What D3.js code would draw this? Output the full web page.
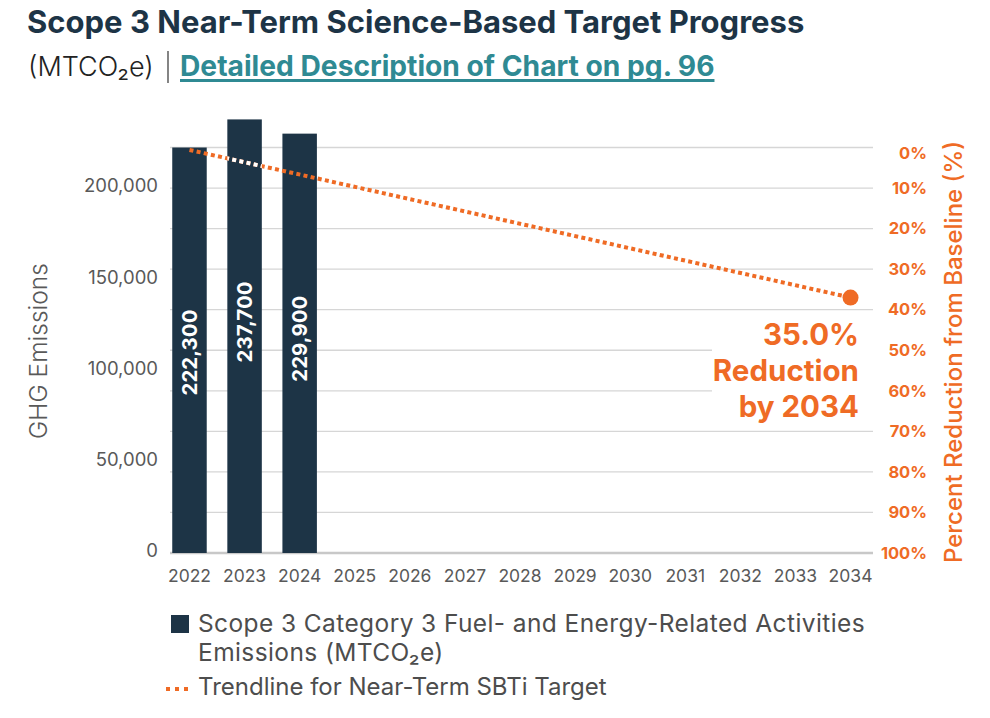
<!DOCTYPE html>
<html>
<head>
<meta charset="utf-8">
<script src="https://cdn.jsdelivr.net/npm/d3@7"></script>
<style>
  body { margin: 0; background: #fff; }
  svg { display: block; font-family: Inter, "Noto Sans", sans-serif; }
</style>
</head>
<body>
<svg id="chart" width="990" height="718"></svg>
<script>
// chart data
var years = ['2022','2023','2024','2025','2026','2027','2028','2029','2030','2031','2032','2033','2034'];
var barYears = ['2022','2023','2024'];
var barValues = [222300, 237700, 229900];
var baseline = 222300;
var leftTicks = [0, 50000, 100000, 150000, 200000];
var pctTicks = [0, 0.1, 0.2, 0.3, 0.4, 0.5, 0.6, 0.7, 0.8, 0.9, 1];
var trendYears = ['2022', '2034'];
var trendPct = [0.006, 0.37];
var whiteOverBars = ['2023'];
var noteLines = ['35.0%', 'Reduction', 'by 2034'];

var navy = '#1d3446', orange = '#ef6b25', grey = '#595959', grid = '#d6d6d6';

var svg = d3.select('#chart');

// titles
svg.append('text').attr('x', 27).attr('y', 33)
   .attr('font-size', 31).attr('font-weight', 700).attr('fill', navy)
   .text('Scope 3 Near-Term Science-Based Target Progress');
svg.append('text').attr('x', 28).attr('y', 76)
   .attr('font-size', 27).attr('font-weight', 300).attr('fill', '#222')
   .text('(MTCO\u2082e)');
svg.append('line').attr('x1', 168).attr('x2', 168).attr('y1', 51).attr('y2', 83)
   .attr('stroke', '#333').attr('stroke-width', 1.2);
var link = svg.append('text').attr('x', 180).attr('y', 76)
   .attr('font-size', 28.2).attr('font-weight', 700).attr('fill', '#2f8a93')
   .text('Detailed Description of Chart on pg. 96');
var lw = link.node().getComputedTextLength();
svg.append('rect').attr('x', 180).attr('y', 79).attr('width', lw).attr('height', 3).attr('fill', '#2f8a93');

// scales
var x = d3.scaleBand().domain(years).range([162, 878]).paddingInner(0.374).paddingOuter(0.186);
var y = d3.scaleLinear().domain([0, baseline]).range([553, 147.5]);
var yPct = d3.scaleLinear().domain([0, 1]).range([147.5, 553]);

// grid from right axis ticks
svg.append('g').selectAll('line').data(pctTicks.slice(0, -1)).join('line')
   .attr('x1', 170).attr('x2', 873)
   .attr('y1', function(d){ return yPct(d); }).attr('y2', function(d){ return yPct(d); })
   .attr('stroke', grid).attr('stroke-width', 1.3);
svg.append('line').attr('x1', 170).attr('x2', 873).attr('y1', 553).attr('y2', 553)
   .attr('stroke', '#c8c8c8').attr('stroke-width', 2.5);

// left axis
var yAxis = svg.append('g').attr('transform', 'translate(158,0)')
   .call(d3.axisLeft(y).tickValues(leftTicks).tickFormat(d3.format(',')).tickSize(0).tickPadding(0));
yAxis.select('.domain').remove();
yAxis.selectAll('text').attr('font-size', 18.5).attr('fill', grey).attr('font-family', 'Inter')
   .attr('dy', '0.2em');

// right axis
var rAxis = svg.append('g').attr('transform', 'translate(927,0)')
   .call(d3.axisLeft(yPct).tickValues(pctTicks).tickFormat(d3.format('.0%')).tickSize(0).tickPadding(0));
rAxis.select('.domain').remove();
rAxis.selectAll('text').attr('font-size', 16.5).attr('font-weight', 700).attr('fill', orange)
   .attr('font-family', 'Inter')
   .attr('dy', function(d){ return d === 0 ? '0.65em' : '0.32em'; });

// x axis
var xAxis = svg.append('g').attr('transform', 'translate(0,570)')
   .call(d3.axisBottom(x).tickSize(0).tickPadding(0));
xAxis.select('.domain').remove();
xAxis.selectAll('text').attr('font-size', 17.5).attr('fill', grey).attr('font-family', 'Inter');

// axis titles
svg.append('text').attr('transform', 'translate(47,351) rotate(-90)')
   .attr('text-anchor', 'middle').attr('font-size', 24.5).attr('font-weight', 300).attr('fill', grey)
   .text('GHG Emissions');
svg.append('text').attr('transform', 'translate(962,352) rotate(-90)')
   .attr('text-anchor', 'middle').attr('font-size', 24).attr('font-weight', 500).attr('fill', orange)
   .text('Percent Reduction from Baseline (%)');

// bars
var bars = barYears.map(function(d, i){ return {year: d, value: barValues[i]}; });
svg.append('g').selectAll('rect').data(bars).join('rect')
   .attr('x', function(d){ return x(d.year); })
   .attr('width', x.bandwidth())
   .attr('y', function(d){ return y(d.value); })
   .attr('height', function(d){ return y(0) - y(d.value); })
   .attr('fill', navy);

svg.append('g').selectAll('text').data(bars).join('text')
   .attr('transform', function(d){
      return 'translate(' + (x(d.year) + x.bandwidth() / 2) + ',' + (y(d.value) + 162) + ') rotate(-90)';
   })
   .attr('text-anchor', 'end').attr('dy', '0.36em')
   .attr('font-size', 20.5).attr('font-weight', 700).attr('fill', '#fff')
   .text(function(d){ return d3.format(',')(d.value); });

// white box behind note
svg.append('rect').attr('x', 712).attr('y', 318).attr('width', 170).attr('height', 104).attr('fill', '#fff');

// trendline
var trend = trendYears.map(function(d, i){ return {year: d, pct: trendPct[i]}; });
var line = d3.line()
   .x(function(d){ return x(d.year) + x.bandwidth() / 2; })
   .y(function(d){ return yPct(d.pct); });

svg.append('path').datum(trend).attr('d', line)
   .attr('fill', 'none').attr('stroke', orange).attr('stroke-width', 4).attr('stroke-dasharray', '4,3.3');

svg.append('clipPath').attr('id', 'whiteclip').selectAll('rect')
   .data(bars.filter(function(d){ return whiteOverBars.indexOf(d.year) >= 0; })).join('rect')
   .attr('x', function(d){ return x(d.year); })
   .attr('width', x.bandwidth())
   .attr('y', function(d){ return y(d.value); })
   .attr('height', function(d){ return y(0) - y(d.value); });
svg.append('path').datum(trend).attr('d', line).attr('clip-path', 'url(#whiteclip)')
   .attr('fill', 'none').attr('stroke', '#fff').attr('stroke-width', 4).attr('stroke-dasharray', '4,3.3');

var last = trend[trend.length - 1];
svg.append('circle').attr('cx', x(last.year) + x.bandwidth() / 2).attr('cy', yPct(last.pct))
   .attr('r', 8).attr('fill', orange);

// note
svg.append('g').selectAll('text').data(noteLines).join('text')
   .attr('x', 859).attr('y', function(d, i){ return 345 + i * 36; })
   .attr('text-anchor', 'end').attr('font-size', 29.5).attr('font-weight', 700).attr('fill', orange)
   .text(function(d){ return d; });

// legend
var legendText = '#4d4d4d';
svg.append('rect').attr('x', 171).attr('y', 615).attr('width', 18).attr('height', 18).attr('fill', navy);
svg.append('text').attr('x', 198).attr('y', 632).attr('font-size', 24.5).attr('letter-spacing', 0.4).attr('fill', legendText)
   .text('Scope 3 Category 3 Fuel- and Energy-Related Activities');
svg.append('text').attr('x', 198).attr('y', 661).attr('font-size', 24.5).attr('letter-spacing', 0.4).attr('fill', legendText)
   .text('Emissions (MTCO\u2082e)');
svg.append('line').attr('x1', 166).attr('x2', 191).attr('y1', 689).attr('y2', 689)
   .attr('stroke', orange).attr('stroke-width', 4).attr('stroke-dasharray', '4,5');
svg.append('text').attr('x', 198).attr('y', 695).attr('font-size', 24).attr('letter-spacing', 0).attr('fill', legendText)
   .text('Trendline for Near-Term SBTi Target');
</script>
</body>
</html>
